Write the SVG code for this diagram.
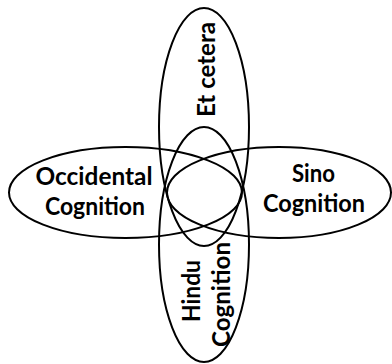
<svg xmlns="http://www.w3.org/2000/svg" width="392" height="364" viewBox="0 0 392 364">
<style>
.e{fill:none;stroke:#000;stroke-width:2}
.t{font-family:Lato,"Liberation Sans",sans-serif;font-weight:bold;font-size:24px;fill:#000;text-anchor:middle}
</style>
<rect width="392" height="364" fill="#fff"/>
<g id="connectors"/>
<g id="etcetera">
<ellipse class="e" cx="204" cy="127" rx="45" ry="119"/>
</g>
<g id="hindu">
<ellipse class="e" cx="204" cy="244.5" rx="45" ry="117.5"/>
</g>
<g id="occidental">
<ellipse class="e" cx="125.5" cy="192.5" rx="116.5" ry="45.5"/>
</g>
<g id="sino">
<ellipse class="e" cx="279" cy="192.5" rx="112" ry="45.5"/>
</g>
<g id="labels">
<text class="t" x="94" y="185" textLength="117" lengthAdjust="spacingAndGlyphs">Occidental</text>
<text class="t" x="95" y="215" textLength="100" lengthAdjust="spacingAndGlyphs">Cognition</text>
<text class="t" x="313.5" y="182" textLength="43" lengthAdjust="spacingAndGlyphs">Sino</text>
<text class="t" x="314" y="212" textLength="102" lengthAdjust="spacingAndGlyphs">Cognition</text>
<text class="t" transform="translate(215,69.5) rotate(-90)" textLength="95" lengthAdjust="spacingAndGlyphs">Et cetera</text>
<text class="t" transform="translate(200,291) rotate(-90)" textLength="62" lengthAdjust="spacingAndGlyphs">Hindu</text>
<text class="t" transform="translate(230,294.5) rotate(-90)" textLength="105" lengthAdjust="spacingAndGlyphs">Cognition</text>
</g>
</svg>
